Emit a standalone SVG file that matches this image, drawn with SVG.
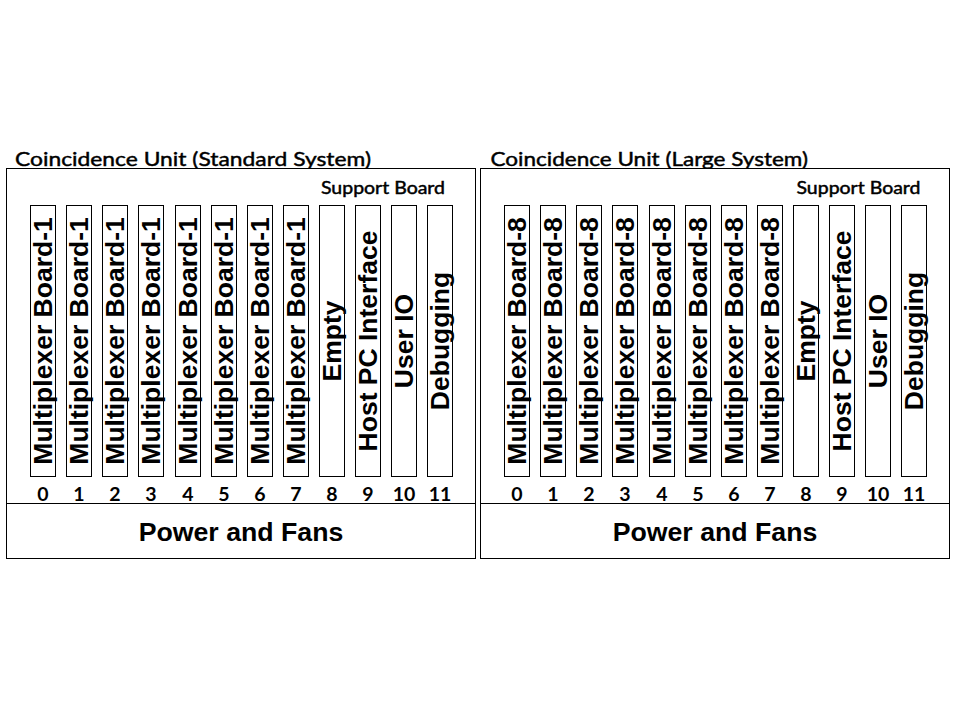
<svg xmlns="http://www.w3.org/2000/svg" width="960" height="720" viewBox="0 0 960 720">
<style>
.box{fill:#fff;stroke:#000;stroke-width:1}
.slot{fill:#fff;stroke:#000;stroke-width:1}
.title{font-family:Lato,"Liberation Sans",sans-serif;font-size:20px;fill:#000;stroke:#000;stroke-width:0.45}
.sup{font-family:Lato,"Liberation Sans",sans-serif;font-size:16.5px;fill:#000;stroke:#000;stroke-width:0.45}
.num{font-family:Lato,"Liberation Sans",sans-serif;font-size:19.5px;font-weight:bold;fill:#000;text-anchor:middle}
.lbl{font-family:"Liberation Sans",Arial,sans-serif;font-size:26.5px;font-weight:bold;fill:#000;text-anchor:middle}
.pwr{font-family:"Liberation Sans",Arial,sans-serif;font-size:26.7px;font-weight:bold;fill:#000;text-anchor:middle}
</style>
<rect width="960" height="720" fill="#fff"/>
<g id="unit-standard">
<text class="title" x="15" y="165.5" textLength="356" lengthAdjust="spacingAndGlyphs">Coincidence Unit (Standard System)</text>
<rect class="box" x="6.5" y="168.5" width="469" height="390"/>
<line x1="6.5" y1="503.5" x2="475.5" y2="503.5" stroke="#000" stroke-width="1"/>
<text class="sup" x="321" y="194.3" textLength="124" lengthAdjust="spacingAndGlyphs">Support Board</text>
<text class="pwr" x="241" y="540.7">Power and Fans</text>
<g id="s-slot0"><rect class="slot" x="30.5" y="205.5" width="25" height="271"/><text class="lbl" transform="translate(52,341) rotate(-90)">Multiplexer Board-1</text><text class="num" x="43" y="501">0</text></g>
<g id="s-slot1"><rect class="slot" x="66.5" y="205.5" width="25" height="271"/><text class="lbl" transform="translate(88,341) rotate(-90)">Multiplexer Board-1</text><text class="num" x="79" y="501">1</text></g>
<g id="s-slot2"><rect class="slot" x="102.5" y="205.5" width="25" height="271"/><text class="lbl" transform="translate(124,341) rotate(-90)">Multiplexer Board-1</text><text class="num" x="115" y="501">2</text></g>
<g id="s-slot3"><rect class="slot" x="138.5" y="205.5" width="25" height="271"/><text class="lbl" transform="translate(160,341) rotate(-90)">Multiplexer Board-1</text><text class="num" x="151" y="501">3</text></g>
<g id="s-slot4"><rect class="slot" x="175.5" y="205.5" width="25" height="271"/><text class="lbl" transform="translate(197,341) rotate(-90)">Multiplexer Board-1</text><text class="num" x="188" y="501">4</text></g>
<g id="s-slot5"><rect class="slot" x="211.5" y="205.5" width="25" height="271"/><text class="lbl" transform="translate(233,341) rotate(-90)">Multiplexer Board-1</text><text class="num" x="224" y="501">5</text></g>
<g id="s-slot6"><rect class="slot" x="247.5" y="205.5" width="25" height="271"/><text class="lbl" transform="translate(269,341) rotate(-90)">Multiplexer Board-1</text><text class="num" x="260" y="501">6</text></g>
<g id="s-slot7"><rect class="slot" x="283.5" y="205.5" width="25" height="271"/><text class="lbl" transform="translate(305,341) rotate(-90)">Multiplexer Board-1</text><text class="num" x="296" y="501">7</text></g>
<g id="s-slot8"><rect class="slot" x="319.5" y="205.5" width="25" height="271"/><text class="lbl" transform="translate(341,341) rotate(-90)">Empty</text><text class="num" x="332" y="501">8</text></g>
<g id="s-slot9"><rect class="slot" x="355.5" y="205.5" width="25" height="271"/><text class="lbl" transform="translate(377,341) rotate(-90)">Host PC Interface</text><text class="num" x="368" y="501">9</text></g>
<g id="s-slot10"><rect class="slot" x="391.5" y="205.5" width="25" height="271"/><text class="lbl" transform="translate(413,341) rotate(-90)">User IO</text><text class="num" x="404" y="501">10</text></g>
<g id="s-slot11"><rect class="slot" x="427.5" y="205.5" width="25" height="271"/><text class="lbl" transform="translate(449,341) rotate(-90)">Debugging</text><text class="num" x="440" y="501">11</text></g>
</g>
<g id="unit-large">
<text class="title" x="490.5" y="165.5" textLength="317.5" lengthAdjust="spacingAndGlyphs">Coincidence Unit (Large System)</text>
<rect class="box" x="480.5" y="168.5" width="469" height="390"/>
<line x1="480.5" y1="503.5" x2="949.5" y2="503.5" stroke="#000" stroke-width="1"/>
<text class="sup" x="796.5" y="194.3" textLength="124" lengthAdjust="spacingAndGlyphs">Support Board</text>
<text class="pwr" x="715" y="540.7">Power and Fans</text>
<g id="l-slot0"><rect class="slot" x="504.5" y="205.5" width="25" height="271"/><text class="lbl" transform="translate(526,341) rotate(-90)">Multiplexer Board-8</text><text class="num" x="517" y="501">0</text></g>
<g id="l-slot1"><rect class="slot" x="540.5" y="205.5" width="25" height="271"/><text class="lbl" transform="translate(562,341) rotate(-90)">Multiplexer Board-8</text><text class="num" x="553" y="501">1</text></g>
<g id="l-slot2"><rect class="slot" x="576.5" y="205.5" width="25" height="271"/><text class="lbl" transform="translate(598,341) rotate(-90)">Multiplexer Board-8</text><text class="num" x="589" y="501">2</text></g>
<g id="l-slot3"><rect class="slot" x="612.5" y="205.5" width="25" height="271"/><text class="lbl" transform="translate(634,341) rotate(-90)">Multiplexer Board-8</text><text class="num" x="625" y="501">3</text></g>
<g id="l-slot4"><rect class="slot" x="649.5" y="205.5" width="25" height="271"/><text class="lbl" transform="translate(671,341) rotate(-90)">Multiplexer Board-8</text><text class="num" x="662" y="501">4</text></g>
<g id="l-slot5"><rect class="slot" x="685.5" y="205.5" width="25" height="271"/><text class="lbl" transform="translate(707,341) rotate(-90)">Multiplexer Board-8</text><text class="num" x="698" y="501">5</text></g>
<g id="l-slot6"><rect class="slot" x="721.5" y="205.5" width="25" height="271"/><text class="lbl" transform="translate(743,341) rotate(-90)">Multiplexer Board-8</text><text class="num" x="734" y="501">6</text></g>
<g id="l-slot7"><rect class="slot" x="757.5" y="205.5" width="25" height="271"/><text class="lbl" transform="translate(779,341) rotate(-90)">Multiplexer Board-8</text><text class="num" x="770" y="501">7</text></g>
<g id="l-slot8"><rect class="slot" x="793.5" y="205.5" width="25" height="271"/><text class="lbl" transform="translate(815,341) rotate(-90)">Empty</text><text class="num" x="806" y="501">8</text></g>
<g id="l-slot9"><rect class="slot" x="829.5" y="205.5" width="25" height="271"/><text class="lbl" transform="translate(851,341) rotate(-90)">Host PC Interface</text><text class="num" x="842" y="501">9</text></g>
<g id="l-slot10"><rect class="slot" x="865.5" y="205.5" width="25" height="271"/><text class="lbl" transform="translate(887,341) rotate(-90)">User IO</text><text class="num" x="878" y="501">10</text></g>
<g id="l-slot11"><rect class="slot" x="901.5" y="205.5" width="25" height="271"/><text class="lbl" transform="translate(923,341) rotate(-90)">Debugging</text><text class="num" x="914" y="501">11</text></g>
</g>
<g id="connectors"/>
</svg>
